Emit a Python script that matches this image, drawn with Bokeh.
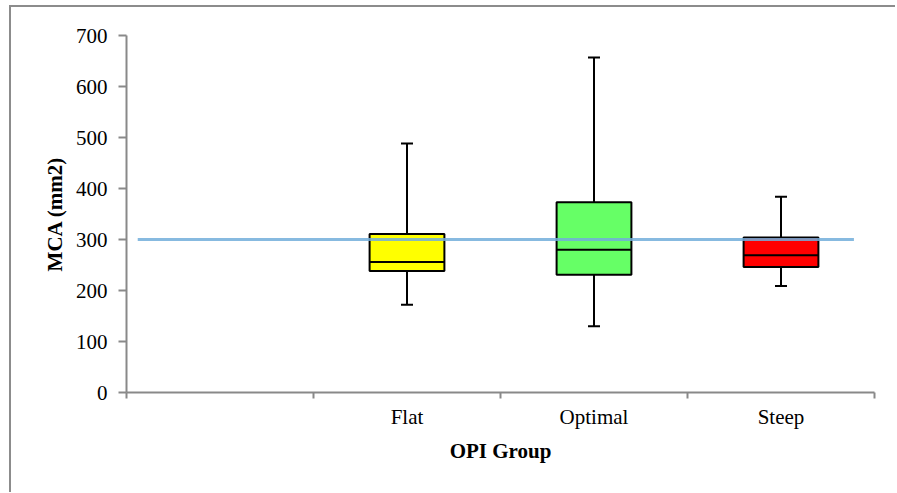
from bokeh.plotting import figure
from bokeh.models import Range1d, FixedTicker, ColumnDataSource, Div
from bokeh.layouts import row, column
from bokeh.embed import file_html
from bokeh.resources import INLINE

# ---- data ----
groups = ["Flat", "Optimal", "Steep"]
group_pos = [1.5, 2.5, 3.5]
box_colors = ["#FFFF00", "#66FF66", "#FF0000"]
whisker_low = [172, 130, 209]
q1 = [238, 231, 246]
median = [256, 280, 269]
q3 = [311, 373, 304]
whisker_high = [488, 657, 384]
ref_line_x = [0.06, 3.89]
ref_line_y = [300, 300]
y_ticks = [0, 100, 200, 300, 400, 500, 600, 700]
x_bounds = [0, 1, 2, 3, 4]

BOX_W = 0.4
src = ColumnDataSource(dict(
    x=group_pos, color=box_colors, lo=whisker_low, q1=q1, med=median, q3=q3, hi=whisker_high,
    xl=[g - BOX_W / 2 for g in group_pos], xr=[g + BOX_W / 2 for g in group_pos],
))

FONT = "Liberation Serif"
GRAY = "#898989"
BORDER = "#8c8c8c"

p = figure(width=884, height=485, output_backend="svg", toolbar_location=None,
           x_range=Range1d(0, 4), y_range=Range1d(0, 700),
           min_border_left=115, min_border_right=21, min_border_top=28, min_border_bottom=100,
           margin=(0, 0, 0, 0))
p.outline_line_color = None
p.grid.visible = False
p.background_fill_color = "white"
p.border_fill_color = "white"

# whiskers
p.segment(x0="x", y0="q3", x1="x", y1="hi", source=src, line_color="black", line_width=2)
p.segment(x0="x", y0="lo", x1="x", y1="q1", source=src, line_color="black", line_width=2)
p.dash(x="x", y="hi", source=src, size=12, line_color="black", line_width=2)
p.dash(x="x", y="lo", source=src, size=12, line_color="black", line_width=2)
# boxes
p.vbar(x="x", width=BOX_W, bottom="q1", top="q3", source=src, fill_color="color",
       line_color="black", line_width=2)
p.segment(x0="xl", y0="med", x1="xr", y1="med", source=src, line_color="black", line_width=2)
# reference line
p.line(ref_line_x, ref_line_y, line_color="#72aedb", line_width=3, line_alpha=0.85)

# axes
xa = p.xaxis[0]
xa.ticker = FixedTicker(ticks=group_pos, minor_ticks=x_bounds)
xa.major_label_overrides = {g: n for g, n in zip(group_pos, groups)}
xa.major_tick_line_color = None
xa.major_tick_out = 0
xa.major_tick_in = 0
xa.minor_tick_line_color = GRAY
xa.minor_tick_line_width = 2
xa.minor_tick_out = 6
xa.minor_tick_in = 0
xa.major_label_standoff = 6
xa.axis_label = "OPI Group"
xa.axis_label_standoff = 7

ya = p.yaxis[0]
ya.ticker = FixedTicker(ticks=y_ticks, minor_ticks=[])
ya.major_tick_out = 8
ya.major_tick_in = 0
ya.major_tick_line_color = GRAY
ya.major_tick_line_width = 2
ya.minor_tick_line_color = None
ya.major_label_standoff = 11
ya.axis_label = "MCA (mm2)"
ya.axis_label_standoff = 6

for ax in (xa, ya):
    ax.axis_line_color = GRAY
    ax.axis_line_width = 2
    ax.major_label_text_font = FONT
    ax.major_label_text_font_size = "21px"
    ax.major_label_text_color = "black"
    ax.axis_label_text_font = FONT
    ax.axis_label_text_font_size = "21px"
    ax.axis_label_text_font_style = "bold"
    ax.axis_label_text_color = "black"

# chart-area border: left and top edges
left_bar = Div(text="", width=2, height=487, margin=(0, 0, 0, 0),
               styles={"background-color": BORDER})
top_bar = Div(text="", width=884, height=2, margin=(0, 0, 0, 0),
              styles={"background-color": BORDER})
layout = row(left_bar, column(top_bar, p, spacing=0, margin=(0, 0, 0, 0)), spacing=0,
             styles={"margin-left": "9px", "margin-top": "5px"})

open("out.html", "w").write(file_html(layout, INLINE))
